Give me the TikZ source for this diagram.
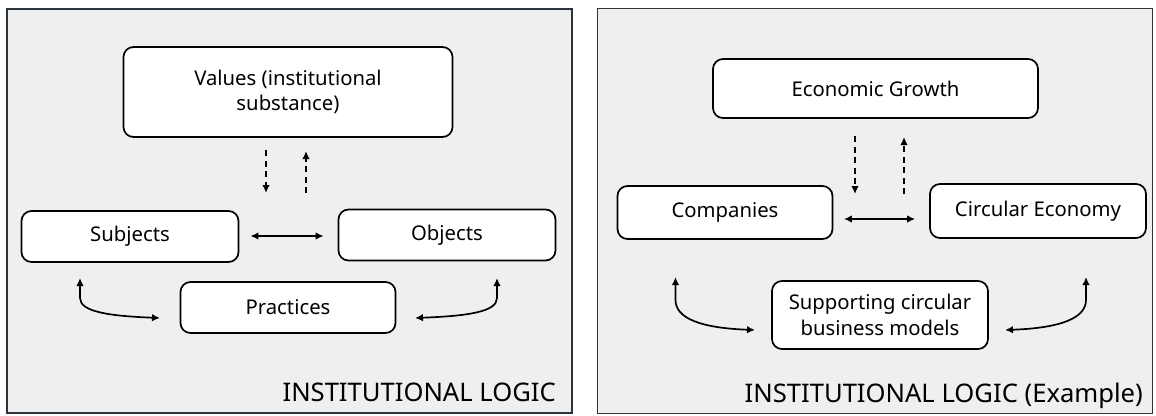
\documentclass[tikz,border=0pt]{standalone}
\usepackage{fontspec}
\setmainfont{Noto Sans}
\usetikzlibrary{arrows.meta}
\definecolor{panelfill}{HTML}{EFEFEF}
\definecolor{panelline}{HTML}{2B333D}
\tikzset{
  panel/.style={draw=panelline, fill=panelfill, line width=1.8pt},
  box/.style={draw=black, fill=white, line width=1.7pt, rounded corners=10pt, inner sep=0pt, align=center, font=\fontsize{20.3}{25.5}\selectfont},
  title/.style={font=\fontsize{25.6}{30}\selectfont, inner sep=0pt, anchor=base east},
  dbl/.style={{Latex[length=8pt,width=7.5pt]}-{Latex[length=8pt,width=7.5pt]}, line width=1.7pt},
  dsh/.style={-{Latex[length=8pt,width=7.5pt]}, dash pattern=on 6pt off 4.5pt, line width=1.6pt},
  crv/.style={{Latex[length=8pt,width=7.5pt]}-{Latex[length=8pt,width=7.5pt]}, line width=1.7pt}
}
\begin{document}
\begin{tikzpicture}[x=1pt,y=-1pt]
\useasboundingbox (0,0) rectangle (1156,415);
% panels
\node[panel, minimum width=565pt, minimum height=404pt, inner sep=0pt] (pl) at (289.5,211) {};
\node[panel, minimum width=555pt, minimum height=405pt, inner sep=0pt] (pr) at (875,211) {};
% left boxes
\node[box, minimum width=329pt, minimum height=90pt] (val) at (288,92) {Values (institutional\\substance)};
\node[box, minimum width=217pt, minimum height=51pt] (subj) at (130,236.5) {Subjects};
\node[box, minimum width=217pt, minimum height=51pt] (obj) at (447,235) {Objects};
\node[box, minimum width=215pt, minimum height=51pt] (prac) at (288,307.5) {Practices};
\node[title] (tl) at (556,401) {INSTITUTIONAL LOGIC};
% right boxes
\node[box, minimum width=325pt, minimum height=59pt] (eg) at (875.5,88.5) {Economic Growth};
\node[box, minimum width=215pt, minimum height=53pt] (comp) at (725,212.5) {Companies};
\node[box, minimum width=216pt, minimum height=54pt] (ce) at (1038,211) {Circular Economy};
\node[box, minimum width=216pt, minimum height=68pt] (sup) at (880,315) {Supporting circular\\business models};
\node[title] (tr) at (1143,402) {INSTITUTIONAL LOGIC (Example)};
% left connectors
\coordinate (ld1) at (266,150); \coordinate (ld2) at (266,193);
\coordinate (lu1) at (306,193); \coordinate (lu2) at (306,151);
\draw[dsh] (ld1) -- (ld2);
\draw[dsh] (lu1) -- (lu2);
\draw[dbl, shorten <=11pt, shorten >=14pt] (subj.east |- 0,236) -- (obj.west |- 0,236);
\coordinate (lc1) at (80,278); \coordinate (lc2) at (160,318);
\coordinate (lc3) at (497,278); \coordinate (lc4) at (415,318);
\draw[crv] (lc2) .. controls (110,316) and (80,312) .. (80,298) -- (lc1);
\draw[crv] (lc3) -- (497,298) .. controls (497,312) and (467,316) .. (lc4);
% right connectors
\coordinate (rd1) at (855,136); \coordinate (rd2) at (855,194);
\coordinate (ru1) at (904,194); \coordinate (ru2) at (904,137);
\draw[dsh] (rd1) -- (rd2);
\draw[dsh] (ru1) -- (ru2);
\draw[dbl, shorten <=10.5pt, shorten >=14pt] (comp.east |- 0,219) -- (ce.west |- 0,219);
\coordinate (rc1) at (675.5,277); \coordinate (rc2) at (755,330);
\coordinate (rc3) at (1086,277); \coordinate (rc4) at (1005,330);
\draw[crv] (rc2) .. controls (700,328) and (675.5,318) .. (675.5,300) -- (rc1);
\draw[crv] (rc3) -- (1086,300) .. controls (1086,318) and (1061,328) .. (rc4);
\end{tikzpicture}
\end{document}
